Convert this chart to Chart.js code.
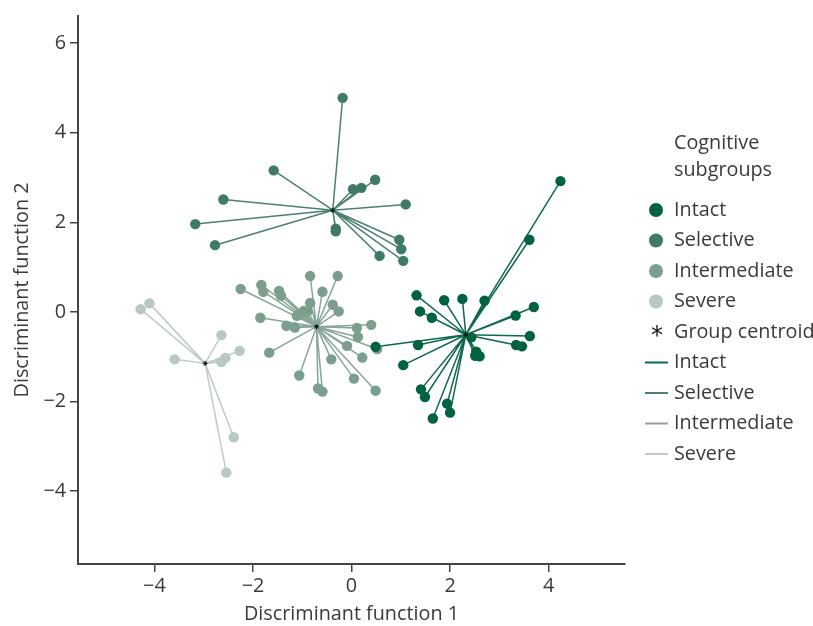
<!DOCTYPE html>
<html>
<head>
<meta charset="utf-8">
<script src="https://cdn.jsdelivr.net/npm/chart.js@4.4.1/dist/chart.umd.min.js"></script>
<style>
  html, body { margin: 0; padding: 0; background: #ffffff; }
  #wrap { position: relative; width: 813px; height: 626px; }
</style>
</head>
<body>
<div id="wrap"><canvas id="c" width="813" height="626"></canvas></div>
<script>
// ---- Data ----
const groupNames = ['Intact', 'Selective', 'Intermediate', 'Severe'];
const groupColors = ['#00633f', '#3e7a64', '#7b9e8d', '#b7c9c0'];
const lineColors = ['#0f6a4a', '#4a8170', '#86a697', '#bccdc5'];

const intactX = [1.32, 1.88, 2.25, 2.70, 1.39, 1.63, 3.70, 3.33, 3.62, 3.34, 3.46, 2.43, 2.53, 2.51, 2.60, 1.35, 0.49, 1.05, 1.41, 1.49, 1.94, 2.00, 1.65, 4.24, 3.61];
const intactY = [0.37, 0.26, 0.29, 0.25, 0.01, -0.13, 0.11, -0.08, -0.54, -0.74, -0.77, -0.57, -0.89, -0.98, -0.99, -0.74, -0.78, -1.19, -1.73, -1.90, -2.05, -2.25, -2.38, 2.92, 1.61];

const selectiveX = [-0.18, -1.58, -2.60, -3.17, -2.77, 0.03, 0.20, 0.48, 1.10, -0.32, -0.32, 0.97, 1.01, 0.57, 1.05];
const selectiveY = [4.78, 3.16, 2.51, 1.96, 1.49, 2.74, 2.77, 2.95, 2.40, 1.86, 1.80, 1.61, 1.40, 1.25, 1.14];

const intermediateX = [-2.25, -1.83, -1.79, -1.47, -1.43, -0.84, -0.28, -0.59, -0.84, -0.38, -0.26, -0.97, -0.89, -1.11, -1.05, -1.85, -1.32, -1.15, 0.40, 0.11, 0.13, -0.09, 0.52, 0.22, -0.41, -1.67, -1.06, 0.05, -0.68, -0.59, 0.49];
const intermediateY = [0.51, 0.60, 0.45, 0.47, 0.36, 0.80, 0.80, 0.45, 0.20, 0.16, 0.01, 0.02, 0.01, -0.09, -0.05, -0.13, -0.31, -0.35, -0.29, -0.36, -0.56, -0.76, -0.83, -1.02, -1.06, -0.91, -1.42, -1.49, -1.71, -1.78, -1.76];

const severeX = [-4.28, -4.10, -2.64, -2.27, -2.56, -2.64, -3.59, -2.39, -2.54];
const severeY = [0.06, 0.19, -0.52, -0.87, -1.03, -1.12, -1.06, -2.80, -3.59];

const centroidX = [2.32, -0.38, -0.71, -2.97];
const centroidY = [-0.51, 2.27, -0.33, -1.15];

const xTicks = [-4, -2, 0, 2, 4];
const yTicks = [-4, -2, 0, 2, 4, 6];
const xTitle = 'Discriminant function 1';
const yTitle = 'Discriminant function 2';
const legendTitle = ['Cognitive', 'subgroups'];
const centroidLabel = 'Group centroid';

// ---- Build datasets ----
const groupX = [intactX, selectiveX, intermediateX, severeX];
const groupY = [intactY, selectiveY, intermediateY, severeY];
const FONT = "'Open Sans', 'Liberation Sans', sans-serif";
const TEXT = '#3a3a3a';
const FSIZE = 19.8;
const FWEIGHT = 400;

const datasets = [];
groupNames.forEach((name, g) => {
  const cx = centroidX[g], cy = centroidY[g];
  const seg = [];
  groupX[g].forEach((x, i) => {
    seg.push({x: cx, y: cy}, {x: x, y: groupY[g][i]}, {x: cx, y: null});
  });
  datasets.push({
    label: name + ' lines', data: seg, showLine: true, spanGaps: false,
    borderColor: lineColors[g], borderWidth: 1.5, pointRadius: 0, pointHoverRadius: 0,
    fill: false, order: 3
  });
});
groupNames.forEach((name, g) => {
  datasets.push({
    label: name, data: groupX[g].map((x, i) => ({x: x, y: groupY[g][i]})),
    backgroundColor: groupColors[g], borderWidth: 0, pointRadius: 5.2, pointHoverRadius: 5.2,
    order: 2
  });
});
datasets.push({
  label: centroidLabel, data: centroidX.map((x, i) => ({x: x, y: centroidY[i]})),
  pointStyle: 'star', pointRadius: 2.5, borderColor: '#111', borderWidth: 1, backgroundColor: '#111',
  order: 1
});

const fmt = v => (v < 0 ? '\u2212' + Math.abs(v) : String(v));

// ---- Custom legend on the right ----
const legendPlugin = {
  id: 'sideLegend',
  afterDraw(chart) {
    const ctx = chart.ctx;
    ctx.save();
    ctx.font = FWEIGHT + ' ' + FSIZE + 'px ' + FONT;
    ctx.fillStyle = TEXT;
    ctx.textBaseline = 'middle';
    ctx.textAlign = 'left';
    const tx = 674, mx = 656;
    ctx.fillText(legendTitle[0], tx, 143);
    ctx.fillText(legendTitle[1], tx, 170);
    const step = 30.5;
    let y = 210;
    groupNames.forEach((name, g) => {
      ctx.beginPath();
      ctx.arc(mx, y, 7, 0, Math.PI * 2);
      ctx.fillStyle = groupColors[g];
      ctx.fill();
      ctx.fillStyle = TEXT;
      ctx.fillText(name, tx, y);
      y += step;
    });
    // centroid
    ctx.save();
    ctx.font = '24px "DejaVu Sans"';
    ctx.fillStyle = '#111';
    ctx.textAlign = 'center';
    ctx.fillText('*', mx + 1, y + 5);
    ctx.restore();
    ctx.fillStyle = TEXT;
    ctx.fillText(centroidLabel, tx, y);
    y += step;
    groupNames.forEach((name, g) => {
      ctx.beginPath();
      ctx.moveTo(645, y);
      ctx.lineTo(668, y);
      ctx.strokeStyle = lineColors[g];
      ctx.lineWidth = 2;
      ctx.stroke();
      ctx.fillStyle = TEXT;
      ctx.fillText(name, tx, y);
      y += step;
    });
    ctx.restore();
  }
};

const tickFont = { family: FONT, size: FSIZE, weight: FWEIGHT };

new Chart(document.getElementById('c'), {
  type: 'scatter',
  data: { datasets },
  plugins: [legendPlugin],
  options: {
    responsive: false,
    animation: false,
    events: [],
    layout: { padding: { top: 15, right: 188, left: 0, bottom: 0 } },
    plugins: { legend: { display: false }, tooltip: { enabled: false } },
    scales: {
      x: {
        type: 'linear', min: -5.55, max: 5.55,
        afterBuildTicks: s => { s.ticks = xTicks.map(v => ({value: v})); },
        afterFit: s => { s.height = 62; },
        grid: { drawOnChartArea: false, drawTicks: true, tickLength: 8, color: '#444', lineWidth: 1.5 },
        border: { display: true, color: '#444', width: 2 },
        ticks: { color: TEXT, font: tickFont, padding: 2, callback: v => fmt(v), maxRotation: 0 },
        title: { display: true, text: xTitle, color: TEXT, font: tickFont, padding: { top: 0, bottom: 0 } }
      },
      y: {
        type: 'linear', min: -5.63, max: 6.61,
        afterBuildTicks: s => { s.ticks = yTicks.map(v => ({value: v})); },
        afterFit: s => { s.width = 78; },
        grid: { drawOnChartArea: false, drawTicks: true, tickLength: 8, color: '#444', lineWidth: 1.5 },
        border: { display: true, color: '#444', width: 2 },
        ticks: { color: TEXT, font: tickFont, padding: 4, callback: v => fmt(v) },
        title: { display: true, text: yTitle, color: TEXT, font: tickFont, padding: { top: 10, bottom: 0 } }
      }
    }
  }
});
</script>
</body>
</html>
